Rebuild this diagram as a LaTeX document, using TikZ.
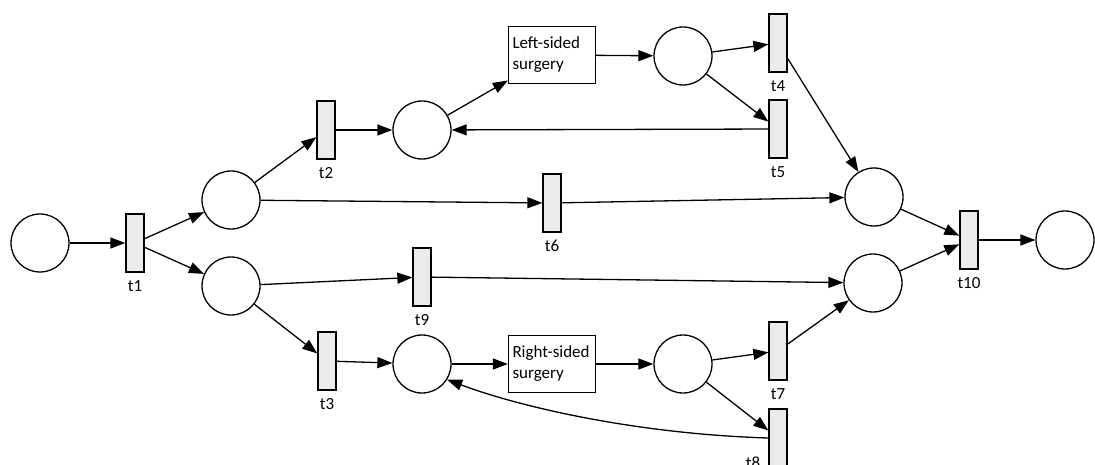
\documentclass[tikz,border=0pt]{standalone}
\usepackage{fontspec}
\setmainfont{Carlito}
\usetikzlibrary{arrows.meta}
\tikzset{
  place/.style={circle, draw, line width=1.3pt, minimum size=58pt, inner sep=0pt, fill=white},
  trans/.style={rectangle, draw, line width=1.3pt, fill=gray!16, minimum width=18pt, minimum height=58pt, inner sep=0pt},
  task/.style={rectangle, draw, line width=1.3pt, fill=white, minimum width=87pt, minimum height=57pt, inner sep=4pt,
               align=left, text width=79pt, font=\fontsize{17pt}{21pt}\selectfont},
  lbl/.style={font=\fontsize{17pt}{20pt}\selectfont, inner sep=0pt},
  arc/.style={line width=1.3pt, -{Triangle[length=15pt,width=11pt]}},
}
\begin{document}
\begin{tikzpicture}[x=1pt, y=-1pt]
\useasboundingbox (0,0) rectangle (1095,465);

% places
\node[place] (p0) at (40,243) {};
\node[place] (p1) at (231,200) {};
\node[place] (p2) at (231,286) {};
\node[place] (p3) at (422,130) {};
\node[place] (p4) at (683,56) {};
\node[place] (p5) at (874,197) {};
\node[place] (p6) at (873,283) {};
\node[place] (p7) at (1065,240) {};
\node[place] (p8) at (422,364) {};
\node[place] (p9) at (683,364) {};

% surgery tasks
\node[task] (left) at (552,55) {Left-sided\\surgery};
\node[task] (right) at (552,364) {Right-sided\\surgery};

% transitions
\node[trans] (t1) at (135,243) {};
\node[trans] (t2) at (326,130) {};
\node[trans] (t3) at (327,361) {};
\node[trans] (t4) at (778,43) {};
\node[trans] (t5) at (778,129) {};
\node[trans] (t6) at (552,203) {};
\node[trans] (t7) at (778,351) {};
\node[trans] (t8) at (778,438) {};
\node[trans] (t9) at (422,277) {};
\node[trans] (t10) at (969,240) {};

% transition labels
\foreach \t in {t1,t2,t3,t4,t5,t6,t7,t9,t10}
  \node[lbl] (\t lab) at ([yshift=-13pt]\t.south) {\t};
\node[lbl] (t8lab) at ([xshift=-25pt,yshift=-25pt]t8.center) {t8};

% arcs
\draw[arc] (p0) -- (t1);
\draw[arc] (t1) -- (p1);
\draw[arc] (t1) -- (p2);
\draw[arc] (p1) -- (t2);
\draw[arc] (t2) -- (p3);
\draw[arc] (p3) -- (left);
\draw[arc] (left) -- (p4);
\draw[arc] (p4) -- (t4);
\draw[arc] (p4) -- (t5);
\draw[arc] (t5) -- (p3);
\draw[arc] (t4) -- (p5);
\draw[arc] (p1) -- (t6);
\draw[arc] (t6) -- (p5);
\draw[arc] (p5) -- (t10);
\draw[arc] (p6) -- (t10);
\draw[arc] (t10) -- (p7);
\draw[arc] (p2) -- (t9);
\draw[arc] (t9) -- (p6);
\draw[arc] (p2) -- (t3);
\draw[arc] (t3) -- (p8);
\draw[arc] (p8) -- (right);
\draw[arc] (right) -- (p9);
\draw[arc] (p9) -- (t7);
\draw[arc] (t7) -- (p6);
\draw[arc] (p9) -- (t8);
\draw[arc] (t8.west) .. controls +(-130,-4) and +(75,28) .. (p8.-32);
\end{tikzpicture}
\end{document}
